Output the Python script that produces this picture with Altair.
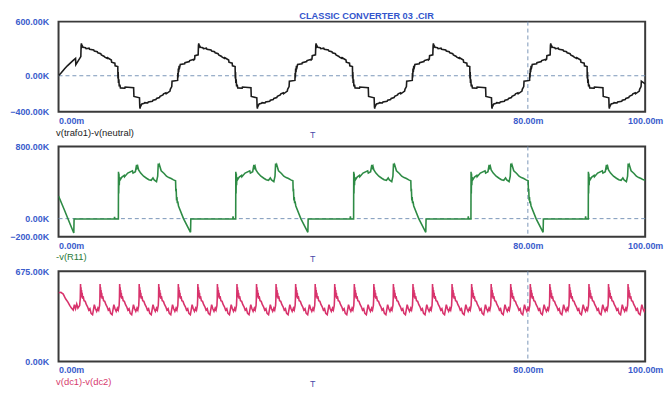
import altair as alt
import pandas as pd

# ---------------- data (time in ms, value in K) ----------------
# panel 1: v(trafo1)-v(neutral)
P1_START_T = [0.0, 0.5, 1.0, 1.5, 2.0, 2.5, 2.9, 2.95, 3.4, 3.8]
P1_START_V = [0, 35, 75, 110, 140, 170, 192, 122, 170, 212]
P1_CYCLE_T = [3.85, 3.90, 3.95, 4.05, 4.20, 4.60, 4.70, 5.20, 5.30, 6.00,
              6.10, 6.60, 6.70, 7.20, 7.30, 7.80, 7.90, 8.30, 8.35, 9.00,
              9.05, 9.60, 9.65, 10.10, 10.13, 10.17, 10.22, 10.28, 10.35, 10.45,
              10.55, 11.30, 11.35, 12.80, 12.85, 13.80, 13.85, 13.90, 13.95, 14.05,
              14.20, 14.60, 14.70, 15.20, 15.30, 16.00, 16.10, 16.60, 16.70, 17.20,
              17.30, 17.80, 17.90, 18.30, 18.35, 19.00, 19.05, 19.30, 19.35, 20.30,
              20.33, 20.37, 20.42, 20.48, 20.55, 20.65, 20.75, 21.50, 21.55, 22.30,
              22.35, 23.00, 23.05, 23.20, 23.25, 23.80]
P1_CYCLE_V = [335, 360, 318, 332, 315, 310, 300, 305, 294, 285,
              274, 266, 254, 245, 230, 214, 206, 192, 200, 175,
              150, 140, 110, 102, -30, 40, -80, -40, -120, -100,
              -135, -138, -125, -132, -230, -245, -345, -365, -318, -332,
              -312, -305, -298, -302, -292, -284, -272, -264, -252, -242,
              -229, -213, -200, -190, -200, -170, -150, -120, -60, -52,
              30, -20, 80, 40, 110, 95, 125, 132, 145, 158,
              168, 180, 175, 185, 222, 232]
P1_BASES = [0, 20, 40, 60, 80]
P1_END = (100.0, -90)

# panel 2: -v(R11)
P2_START_T = [0.0, 1.0, 2.0, 2.6, 2.65, 9.5, 9.55, 9.6, 10.15]
P2_START_V = [250, 95, -65, -160, -5, -5, 20, -5, -5]
P2_CYCLE_T = [0.00, 0.02, 0.06, 0.10, 0.15, 0.20, 0.30, 0.60, 1.00, 1.05,
              1.60, 2.40, 2.50, 2.90, 3.00, 3.10, 3.20, 3.30, 3.45, 3.80,
              4.30, 4.80, 5.20, 5.60, 5.90, 6.10, 6.50, 6.70, 6.80, 6.90,
              7.00, 7.30, 7.80, 8.20, 8.60, 9.00, 9.40, 9.75, 9.80, 9.85,
              9.92, 9.98, 10.05, 10.12, 10.25, 11.10, 12.30, 12.35, 19.50, 19.55,
              19.60, 19.98]
P2_CYCLE_V = [-5, 520, 280, 500, 370, 460, 430, 460, 480, 465,
              505, 530, 505, 520, 560, 595, 565, 580, 540, 505,
              470, 448, 432, 425, 452, 430, 410, 470, 610, 575,
              595, 530, 500, 470, 455, 445, 430, 420, 300, 330,
              200, 240, 170, 190, 140, 0, -152, -5, -5, 25,
              -5, -5]
P2_JUMPS = [10.2, 30.2, 50.3, 70.3, 90.3]
P2_END = (100.0, 425)

# panel 3: v(dc1)-v(dc2)
P3_START_T = [0.0, 0.4, 0.8, 1.2, 1.6, 1.9, 2.2, 2.5, 2.7, 2.9, 3.1, 3.3, 3.6, 3.70]
P3_START_V = [515, 518, 505, 470, 445, 420, 400, 385, 425, 395, 430, 400, 420, 470]
P3_RIPPLE_T = [0.00, 0.04, 0.08, 0.12, 0.17, 0.22, 0.28, 0.35, 0.45, 0.60,
               0.80, 1.00, 1.20, 1.40, 1.60, 1.80, 2.05, 2.35, 2.55, 2.75,
               2.95, 3.10, 3.25, 3.30]
P3_RIPPLE_V = [580, 505, 555, 490, 535, 480, 515, 470, 490, 455,
               450, 425, 410, 385, 395, 360, 350, 425, 395, 375,
               400, 385, 420, 470]
P3_SPIKES = [3.75, 7.08, 10.42, 13.75, 17.08, 20.42, 23.75, 27.08, 30.42, 33.75,
             37.08, 40.42, 43.75, 47.08, 50.42, 53.75, 57.08, 60.42, 63.75, 67.08,
             70.42, 73.75, 77.08, 80.42, 83.75, 87.08, 90.42, 93.75, 97.08]
P3_END = (100.0, 395)

X_TICKS = [0, 80, 100]
CURSOR_T = [80]


def build(st, sv, starts, ct, cv, end):
    ts, vs = list(st), list(sv)
    for b in starts:
        for o, v in zip(ct, cv):
            if b + o < end[0]:
                ts.append(round(b + o, 3))
                vs.append(v)
    ts.append(end[0])
    vs.append(end[1])
    return pd.DataFrame({"t": ts, "v": vs})


d1 = build(P1_START_T, P1_START_V, P1_BASES, P1_CYCLE_T, P1_CYCLE_V, P1_END)
d2 = build(P2_START_T, P2_START_V, P2_JUMPS, P2_CYCLE_T, P2_CYCLE_V, P2_END)
d3 = build(P3_START_T, P3_START_V, P3_SPIKES, P3_RIPPLE_T, P3_RIPPLE_V, P3_END)

W, H = 592, 91
FONT = "Liberation Sans"
BLUE = "#3a5ccc"
GRID = "#7a96b8"


def panel(df, color, lo, hi, label, label_color, zero_line=True, title=None):
    xenc = alt.X(
        "t:Q",
        scale=alt.Scale(domain=[0, 100], nice=False, zero=False),
        axis=alt.Axis(
            values=X_TICKS,
            labelExpr="format(datum.value, '.2f') + 'm'",
            labelAlign={"condition": {"test": "datum.value == 0", "value": "left"}, "value": "center"},
            labelFlush=False, labelOverlap=False, ticks=False, domain=False, grid=False,
            labelPadding=4.5, labelFont=FONT, labelFontSize=9, labelFontWeight="bold", labelColor=BLUE,
            title="T", titleX=256, titleY=22.5, titleBaseline="middle", titleAlign="center",
            titleFont=FONT, titleFontSize=9, titleFontWeight="normal", titleColor="#4848a8",
        ),
    )
    yvals = [lo, 0, hi] if lo < 0 else [0, hi]
    yenc = alt.Y(
        "v:Q",
        scale=alt.Scale(domain=[lo, hi], nice=False, zero=False),
        axis=alt.Axis(
            values=yvals,
            labelExpr="format(datum.value, '.2f') + 'K'",
            ticks=False, domain=False, grid=False, labelOverlap=False,
            labelPadding=10, labelFont=FONT, labelFontSize=9, labelFontWeight="bold", labelColor=BLUE,
            title=label, titleAngle=0, titleAlign="left", titleBaseline="middle",
            titleX=-3, titleY=H + 20.5, titleColor=label_color, titleFont=FONT,
            titleFontSize=9.5, titleFontWeight="normal",
        ),
    )
    layers = []
    if zero_line:
        layers.append(
            alt.Chart(pd.DataFrame({"v": [0]}))
            .mark_rule(color=GRID, strokeDash=[4, 3], strokeWidth=1)
            .encode(y=yenc)
        )
    layers.append(
        alt.Chart(pd.DataFrame({"t": CURSOR_T}))
        .mark_rule(color=GRID, strokeDash=[4, 3], strokeWidth=1)
        .encode(x=xenc)
    )
    layers.append(
        alt.Chart(df).mark_line(color=color, strokeWidth=1.6, clip=True).encode(x=xenc, y=yenc)
    )
    ch = alt.layer(*layers).properties(width=W, height=H)
    if title is not None:
        ch = ch.properties(title=title)
    return ch


title = alt.TitleParams(
    "CLASSIC CONVERTER 03 .CIR", anchor="start", frame="group", dx=243, offset=-3.2,
    font=FONT, fontSize=9.3, fontWeight="bold", color="#3355cc",
)

p1 = panel(d1, "#1c1c1c", -400, 600, "v(trafo1)-v(neutral)", "#222222", True, title)
p2 = panel(d2, "#2e8b45", -200, 800, "-v(R11)", "#2a7a3a", True)
p3 = panel(d3, "#d8336c", 0, 675, "v(dc1)-v(dc2)", "#d63a6e", False)

chart = (
    alt.vconcat(p1, p2, p3, spacing=35, bounds="flush")
    .properties(padding=0, background="white")
    .configure_view(stroke="#3a3a3a", strokeWidth=2)
)

chart.save("out.html", embed_options={"renderer": "svg", "actions": False})
